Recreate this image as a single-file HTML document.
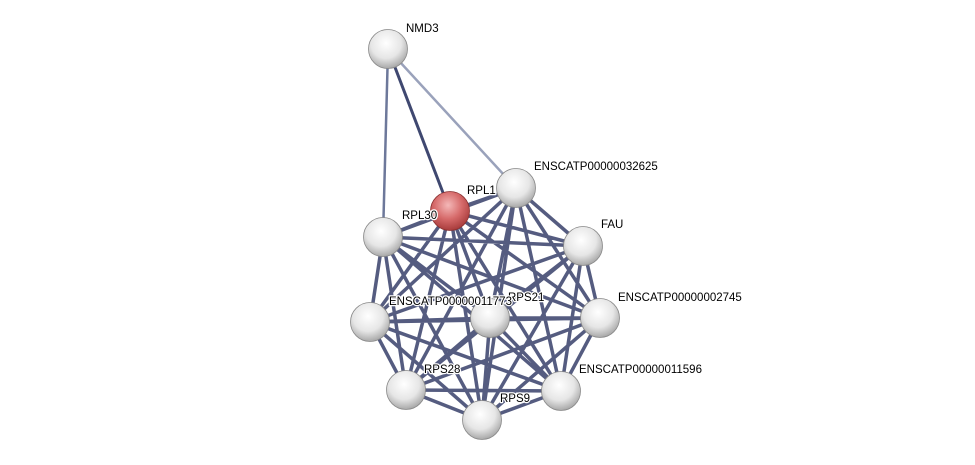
<!DOCTYPE html>
<html><head><style>
html,body{margin:0;padding:0;background:#fff;}
svg{display:block}
text{font-family:"Liberation Sans",Arial,sans-serif;font-size:11.5px;fill:#000;paint-order:stroke;stroke:#fff;stroke-width:2.5px;stroke-linejoin:round}
</style></head><body>
<svg width="975" height="465" viewBox="0 0 975 465" xmlns="http://www.w3.org/2000/svg">
<defs>
<radialGradient id="g" cx="0.45" cy="0.35" r="0.65">
<stop offset="0" stop-color="#ffffff"/><stop offset="0.6" stop-color="#e6e6e6"/><stop offset="1" stop-color="#a8a8a8"/>
</radialGradient>
<radialGradient id="r" cx="0.45" cy="0.35" r="0.65">
<stop offset="0" stop-color="#f4b8b8"/><stop offset="0.55" stop-color="#d66a6a"/><stop offset="1" stop-color="#a83c3c"/>
</radialGradient>
</defs>
<g fill="none" stroke-linecap="round">
<path d="M388 49L383 237" stroke="#6d789a" stroke-width="2.5"/>
<path d="M388 49L450 211" stroke="#3f4870" stroke-width="3"/>
<path d="M388 49L516 188" stroke="#9aa2bb" stroke-width="2.5"/>
<path stroke="#3d466e" stroke-opacity="0.88" stroke-width="3.5" d="
M450 211L516 188 M450 211L383 237 M450 211L583 246 M450 211L370 322 M450 211L490 318 M450 211L600 318 M450 211L406 390 M450 211L561 391 M450 211L482 420
M516 188L383 237 M516 188L583 246 M516 188L370 322 M516 188L490 318 M516 188L600 318 M516 188L406 390 M516 188L561 391 M516 188L482 420
M383 237L583 246 M383 237L370 322 M383 237L490 318 M383 237L600 318 M383 237L406 390 M383 237L561 391 M383 237L482 420
M583 246L370 322 M583 246L490 318 M583 246L600 318 M583 246L406 390 M583 246L561 391 M583 246L482 420
M370 322L490 318 M370 322L600 318 M370 322L406 390 M370 322L561 391 M370 322L482 420
M490 318L600 318 M490 318L406 390 M490 318L561 391 M490 318L482 420
M600 318L406 390 M600 318L561 391 M600 318L482 420
M406 390L561 391 M406 390L482 420
M561 391L482 420"/>
</g>
<g stroke="#888" stroke-width="0.8">
<circle cx="388" cy="49" r="19.5" fill="url(#g)"/>
<circle cx="516" cy="188" r="19.5" fill="url(#g)"/>
<circle cx="383" cy="237" r="19.5" fill="url(#g)"/>
<circle cx="583" cy="246" r="19.5" fill="url(#g)"/>
<circle cx="370" cy="322" r="19.5" fill="url(#g)"/>
<circle cx="490" cy="318" r="19.5" fill="url(#g)"/>
<circle cx="600" cy="318" r="19.5" fill="url(#g)"/>
<circle cx="406" cy="390" r="19.5" fill="url(#g)"/>
<circle cx="561" cy="391" r="19.5" fill="url(#g)"/>
<circle cx="482" cy="420" r="19.5" fill="url(#g)"/>
<circle cx="450" cy="211" r="19.5" fill="url(#r)" stroke="#8a3030"/>
</g>
<text x="406" y="32">NMD3</text>
<text x="534" y="170">ENSCATP00000032625</text>
<text x="467" y="194">RPL1</text>
<text x="402" y="219">RPL30</text>
<text x="601" y="228">FAU</text>
<text x="618" y="301">ENSCATP00000002745</text>
<text x="508" y="301">RPS21</text>
<text x="389" y="305">ENSCATP00000011773</text>
<text x="579" y="373">ENSCATP00000011596</text>
<text x="424" y="373">RPS28</text>
<text x="500" y="402">RPS9</text>
</svg>
</body></html>
